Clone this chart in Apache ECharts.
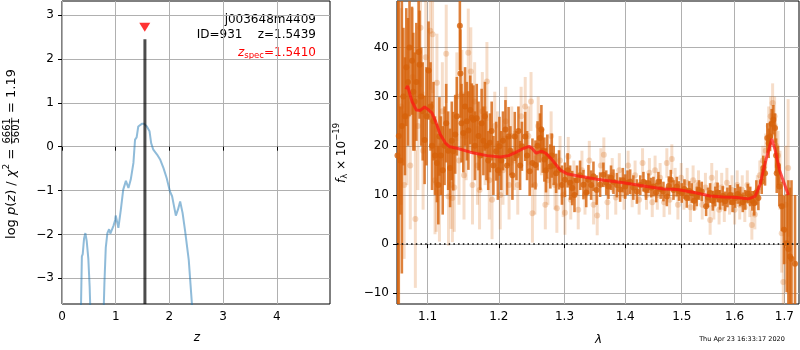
<!DOCTYPE html>
<html>
<head>
<meta charset="utf-8">
<script src="https://cdn.jsdelivr.net/npm/echarts@6.0.0/dist/echarts.min.js"></script>
<style>
  html, body { margin: 0; padding: 0; background: #fff; }
  #chart { width: 800px; height: 350px; }
</style>
</head>
<body>
<div id="chart"></div>
<script>
// ---------- redshift probability panel ----------
const zTicks = [0, 1, 2, 3, 4];
const logpTicks = [-3, -2, -1, 0, 1, 2, 3];
const pzZ = [0.30, 0.354, 0.370, 0.386, 0.41, 0.435, 0.46, 0.49, 0.515, 0.54, 0.65, 0.765, 0.79, 0.815, 0.845,
  0.877, 0.90, 0.927, 0.96, 0.99, 1.00, 1.05, 1.095, 1.14, 1.19, 1.237, 1.28, 1.33, 1.36, 1.39, 1.42, 1.45,
  1.486, 1.53, 1.58, 1.63, 1.66, 1.70, 1.77, 1.83, 1.89, 1.95, 2.01, 2.05, 2.08, 2.12, 2.16, 2.20, 2.245,
  2.29, 2.36, 2.42, 2.50];
const pzLogP = [-6, -3.6, -2.5, -2.45, -2.1, -1.97, -2.15, -2.55, -3.2, -4.2, -6, -4.2, -3.1, -2.3, -1.97,
  -1.88, -1.98, -2.0, -1.8, -1.67, -1.57, -1.85, -1.44, -0.98, -0.78, -0.94, -0.75, -0.37, 0.16, 0.21, 0.46, 0.5,
  0.52, 0.52, 0.46, 0.35, 0.08, -0.07, -0.18, -0.3, -0.49, -0.72, -1.02, -1.13, -1.32, -1.57, -1.43, -1.25, -1.51,
  -1.9, -2.58, -3.6, -5];
const zBest = 1.5439;
const zBestTop = 2.45;
const zSpec = 1.5410;
const zSpecMarker = 2.72;

// ---------- spectrum panel ----------
const waveTicks = [1.1, 1.2, 1.3, 1.4, 1.5, 1.6, 1.7];
const fluxTicks = [-10, 0, 10, 20, 30, 40];

// binned spectrum (dark points)
const darkWave = [1.0603, 1.0620, 1.0640, 1.0660, 1.0680, 1.0700, 1.0718, 1.0740, 1.0760, 1.0793, 1.0810, 1.0827,
  1.0850, 1.0880, 1.0893, 1.0915, 1.0935, 1.0960, 1.0985, 1.1013, 1.1040, 1.1060, 1.1080, 1.1100, 1.1126, 1.1145,
  1.1160, 1.1180, 1.1205, 1.1230, 1.1253, 1.1280, 1.1306, 1.1330, 1.1350, 1.1377, 1.1400, 1.1442, 1.1450, 1.1465,
  1.1490, 1.1515, 1.1540, 1.1562, 1.1588, 1.1610, 1.1633, 1.1655, 1.1680, 1.1705, 1.1730, 1.1750, 1.1775, 1.1797,
  1.1820, 1.1845, 1.1870, 1.1895, 1.1920, 1.1960, 1.1985, 1.2008, 1.2035, 1.2060, 1.2097, 1.2120, 1.2143, 1.2170,
  1.2200, 1.2235, 1.2260, 1.2290, 1.2315, 1.2342, 1.2392, 1.2420, 1.2460, 1.2502, 1.2548, 1.2580, 1.2617, 1.2639,
  1.2660, 1.2685, 1.2710, 1.2730, 1.2777, 1.2800, 1.2830, 1.2868, 1.2914, 1.2960, 1.3007, 1.3050, 1.3090, 1.3124,
  1.3160, 1.3200, 1.3250, 1.3305, 1.3350, 1.3386, 1.3430, 1.3468, 1.3520, 1.3578, 1.3633, 1.3680, 1.3717, 1.3760,
  1.3801, 1.3860, 1.3914, 1.3960, 1.4000, 1.4040, 1.4085, 1.4140, 1.4201, 1.4260, 1.4315, 1.4360, 1.4403, 1.4450,
  1.4491, 1.4540, 1.4579, 1.4620, 1.4669, 1.4730, 1.4765, 1.4801, 1.4850, 1.4910, 1.4950, 1.5001, 1.5050, 1.5093,
  1.5140, 1.5185, 1.5230, 1.5278, 1.5320, 1.5371, 1.5453, 1.5490, 1.5529, 1.5580, 1.5624, 1.5670, 1.5719, 1.5770,
  1.5815, 1.5860, 1.5912, 1.5960, 1.6011, 1.6060, 1.6109, 1.6160, 1.6208, 1.6260, 1.6307, 1.6350, 1.6387, 1.6430,
  1.6471, 1.6538, 1.6570, 1.6605, 1.6651, 1.6680, 1.6707, 1.6740, 1.6775, 1.6809, 1.6830, 1.6844, 1.6870, 1.6898,
  1.6947, 1.6995, 1.7050, 1.7085, 1.7119, 1.7150, 1.7224];
const darkFlux = [18, 22, 17, 24, 30, 26, 36.0, 33, 40, 37.3, 31, 29.0,
  33, 39.1, 36.5, 30, 27, 21.2, 26, 35.3, 28, 20, 25.0, 18, 16.5, 12,
  21.9, 18, 15, 20, 24.6, 19, 15.5, 21, 18.9, 22.3, 26, 44.4, 34.7, 24.6,
  22.6, 28, 25, 23.1, 27.3, 25.7, 25.3, 20, 25.6, 22, 18, 24.6, 21, 26.0,
  20, 17, 20.6, 23, 16, 18.9, 15, 19.9, 17, 21, 23.3, 16, 21.9, 19,
  14, 21.9, 18, 23, 16, 19.9, 21.9, 18, 14.8, 16.5, 16.1, 20, 21.6, 23.3,
  19, 17.2, 15, 17.8, 15.8, 18, 16, 14.4, 15.1, 12, 13.1, 15, 12.5, 11.4,
  10, 13, 14, 12.1, 10.5, 13.1, 12, 13.8, 11, 12.1, 14.1, 12.5, 11.7, 13.5,
  12.7, 12, 11.1, 13, 11.7, 12.5, 12.7, 11.5, 10.7, 12, 12.7, 11, 12.4, 11.5,
  11.7, 10.5, 12.7, 11.2, 10.7, 9.7, 11.8, 13.1, 11, 11.7, 10.8, 10.4, 11.2, 9.4,
  10.8, 10.4, 8.8, 9.7, 11, 10.7, 7.7, 9.5, 10.4, 8.8, 9.7, 10.5, 9.0, 9.8,
  8.7, 9.5, 10.0, 8.5, 9.4, 10.2, 9.7, 8.5, 9.0, 10.3, 9.7, 8.8, 8.3, 10.5,
  9.4, 12.7, 15.5, 14.4, 21.6, 20.5, 21.9, 24.5, 25.3, 23.6, 18, 14.4, 16, 11.7,
  7.7, 2.9, 0.2, -1, -2.5, -3, -4];
const darkErr = [45, 40, 11, 30, 14, 12, 12, 13, 14, 11, 12, 10,
  12, 12, 11, 10, 10, 9, 10, 10, 9, 9, 8, 8, 8, 8,
  8, 8, 9, 8, 8, 8, 8, 8, 8, 8, 8, 9, 9, 8,
  8, 8, 8, 8, 7, 7, 7, 7, 7, 7, 7, 7, 7, 7,
  7, 6, 6, 6, 6, 6, 6, 6, 6, 6, 6, 6, 6, 5,
  5, 5, 5, 5, 5, 5, 5, 5, 5, 5, 5, 5, 5, 5,
  4.5, 4.5, 4.5, 4.5, 4.5, 4.5, 4, 4, 4, 4, 3.5, 3.5, 3.5, 3.5,
  3.5, 3, 3, 3, 3, 3, 3, 3, 3, 2.5, 2.5, 2.5, 2.5, 2.5,
  2.5, 2.5, 2.5, 2.5, 2.5, 2.5, 2.5, 2.5, 2.5, 2, 2, 2, 2, 2,
  2, 2, 2, 2, 2, 2, 2, 2, 2, 2, 2, 2, 2, 2,
  2, 2, 2, 2, 2, 2, 2, 2, 2, 2, 2, 2, 2, 2,
  2, 2, 2, 2, 2, 2, 2, 2, 2, 2, 2, 2, 2.5, 2.5,
  2.5, 2.5, 2.5, 2.5, 3, 3, 3, 3, 3, 3, 3.5, 4, 4, 4,
  5, 7, 10, 14, 14, 16, 14];

// unbinned spectrum (light points)
const lightWave = [1.0650, 1.0690, 1.0725, 1.0770, 1.0800, 1.0837, 1.0870, 1.0905, 1.0940, 1.0975, 1.1036, 1.1067,
  1.1100, 1.1117, 1.1126, 1.1160, 1.1200, 1.1253, 1.1284, 1.1320, 1.1338, 1.1364, 1.1400, 1.1430, 1.1470, 1.1500,
  1.1530, 1.1560, 1.1596, 1.1620, 1.1650, 1.1690, 1.1720, 1.1760, 1.1800, 1.1826, 1.1860, 1.1900, 1.1940, 1.1980,
  1.2020, 1.2060, 1.2100, 1.2150, 1.2190, 1.2230, 1.2280, 1.2330, 1.2392, 1.2440, 1.2480, 1.2502, 1.2540, 1.2590,
  1.2640, 1.2700, 1.2740, 1.2790, 1.2850, 1.2880, 1.2930, 1.2980, 1.3007, 1.3060, 1.3100, 1.3150, 1.3220, 1.3280,
  1.3330, 1.3400, 1.3470, 1.3530, 1.3590, 1.3640, 1.3700, 1.3780, 1.3840, 1.3900, 1.3980, 1.4050, 1.4120, 1.4170,
  1.4240, 1.4300, 1.4370, 1.4420, 1.4470, 1.4520, 1.4560, 1.4610, 1.4680, 1.4730, 1.4780, 1.4820, 1.4880, 1.4930,
  1.4990, 1.5040, 1.5100, 1.5160, 1.5210, 1.5260, 1.5310, 1.5380, 1.5440, 1.5529, 1.5560, 1.5600, 1.5650, 1.5700,
  1.5750, 1.5800, 1.5850, 1.5900, 1.5950, 1.6000, 1.6050, 1.6100, 1.6150, 1.6200, 1.6250, 1.6300, 1.6340, 1.6400,
  1.6450, 1.6500, 1.6560, 1.6620, 1.6680, 1.6720, 1.6760, 1.6800, 1.6830, 1.6870, 1.6910, 1.6947, 1.6980, 1.7030,
  1.7080];
const lightFlux = [28, 12, 26, 16, 34, 5.1, 24, 44, 19, 38, 43.4, 42.7,
  13, 12.5, 32.8, 10.5, 27, 38.7, 9.7, 12.1, 9.4, 11.5, 30, 17, 30.5, 14,
  22, 38.9, 35.1, 12, 29, 16, 11, 27, 20, 33.1, 13, 9.0, 24, 20,
  10.0, 15, 25, 12, 22, 17, 12, 26, 28.0, 22, 29.0, 6.3, 12, 24,
  19, 8.0, 13, 22, 12, 7.3, 17, 10, 6.4, 17.8, 9, 13, 7, 15,
  10, 17, 8, 5.8, 16, 18.2, 8.5, 14, 9.5, 15, 10, 16, 10.5, 14,
  9, 16.5, 10, 14.5, 8.5, 15, 10, 13.5, 8.5, 16.5, 9, 17.3, 12.5, 8,
  13.5, 10, 12.5, 7.5, 13, 10, 12, 8, 11.5, 4.9, 13.5, 8, 12, 7,
  11.5, 7.5, 12.5, 9, 11, 7, 12, 8, 11, 7.5, 12, 8.5, 3.9, 6,
  11, 14, 17, 19, 24, 26, 28.7, 26, 20, 18, 13, 2.2, -7.7, 8,
  15.5];
const lightErr = [20, 15, 14, 13, 14, 14, 13, 12, 12, 12, 12, 12,
  11, 10, 10, 10, 10, 10, 10, 9, 9, 9, 9, 9, 9, 9,
  9, 9, 9, 8, 8, 8, 8, 8, 8, 8, 8, 8, 7, 7,
  7, 7, 7, 7, 6, 6, 6, 6, 6, 6, 6, 6, 6, 6,
  5, 5, 5, 5, 5, 5, 5, 4.5, 4.5, 4, 4, 4, 4, 4,
  4, 4, 4, 4, 3.5, 3.5, 3.5, 3.5, 3.5, 3.5, 3, 3, 3, 3,
  3, 3, 3, 3, 3, 3, 3, 3, 3, 3, 3, 3, 3, 3,
  3, 3, 3, 3, 3, 3, 3, 3, 3, 3, 3, 3, 3, 3,
  3, 3, 3, 3, 3, 3, 3, 3, 3, 3, 3, 3, 3, 3,
  3, 3, 3, 3.5, 4, 4, 4, 4, 4.5, 5, 6, 8, 10, 12,
  14];

// best-fit template
const modelWave = [1.0715, 1.0735, 1.0793, 1.0849, 1.0902, 1.0960, 1.1013, 1.1059, 1.1117, 1.1172, 1.1240, 1.1300,
  1.1402, 1.1588, 1.1826, 1.2020, 1.2142, 1.2242, 1.2342, 1.2452, 1.2493, 1.2559, 1.2647, 1.2714, 1.2802, 1.2932,
  1.3038, 1.3198, 1.3525, 1.3970, 1.4377, 1.4671, 1.4910, 1.5031, 1.5278, 1.5529, 1.5782, 1.6042, 1.6271, 1.6404,
  1.6505, 1.6572, 1.6652, 1.6743, 1.6810, 1.6900, 1.7085];
const modelFlux = [31.5, 32.2, 29.0, 27.3, 27.2, 27.9, 27.3, 26.7, 24.6, 22.3, 20.6, 19.8,
  19.5, 18.7, 18.0, 17.7, 18.0, 18.6, 19.3, 19.9, 19.5, 18.5, 18.9, 18.4, 17.2, 15.1,
  14.3, 13.9, 13.2, 12.5, 11.7, 11.2, 11.1, 10.9, 10.4, 9.8, 9.6, 9.5, 9.2, 9.7,
  12.1, 15.1, 18.2, 21.4, 19.2, 15.1, 10.0];

// ---------- helpers ----------
const FONT = "'DejaVu Sans', sans-serif";
const measureCtx = document.createElement('canvas').getContext('2d');
function textWidth(str, size, italic) {
  measureCtx.font = (italic ? 'italic ' : '') + size + "px 'DejaVu Sans'";
  return measureCtx.measureText(str).width;
}
function txt(text, x, y, size, italic, fill, align) {
  return {
    type: 'text', x: x, y: y, silent: true,
    style: {
      text: text, fontSize: size, fontFamily: FONT, fontStyle: italic ? 'italic' : 'normal',
      fill: fill || '#000', align: align || 'left', verticalAlign: 'middle'
    }
  };
}
// lays out a run of text pieces (with sub/superscripts and stacked fractions) left to right
function layoutPieces(pieces) {
  let x = 0;
  const children = [];
  pieces.forEach(function (p) {
    if (p.frac) {
      const w = Math.max(textWidth(p.num, p.size), textWidth(p.den, p.size)) + 2;
      children.push(txt(p.num, x + w / 2, p.numDy, p.size, false, p.fill, 'center'));
      children.push(txt(p.den, x + w / 2, p.denDy, p.size, false, p.fill, 'center'));
      children.push({ type: 'line', silent: true,
        shape: { x1: x + 0.5, y1: p.barDy, x2: x + w - 0.5, y2: p.barDy },
        style: { stroke: p.fill || '#000', lineWidth: 0.8 } });
      x += w;
    } else {
      children.push(txt(p.text, x, p.dy || 0, p.size, p.italic, p.fill, 'left'));
      x += textWidth(p.text, p.size, p.italic);
    }
  });
  return { children: children, width: x };
}
function centeredRotated(pieces, cx, cy) {
  const l = layoutPieces(pieces);
  return { type: 'group', x: cx, y: cy, rotation: Math.PI / 2,
    children: [{ type: 'group', x: -l.width / 2, y: 0, children: l.children }] };
}
function rightAligned(pieces, rx, cy) {
  const l = layoutPieces(pieces);
  return { type: 'group', x: rx - l.width, y: cy, children: l.children };
}
function minusFmt(v) {
  return v < 0 ? '\u2212' + Math.abs(v) : String(v);
}
function errorBars(color, width) {
  return function (params, api) {
    const x = api.value(0), y = api.value(1), e = api.value(2);
    const hi = api.coord([x, y + e]);
    const lo = api.coord([x, y - e]);
    return { type: 'rect',
      shape: { x: hi[0] - width / 2, y: hi[1], width: width, height: lo[1] - hi[1] },
      style: { fill: color } };
  };
}

const ORANGE = '214,98,10';
const axisText = { fontSize: 12, fontFamily: FONT, color: '#000' };
const tickStyle = { show: true, inside: false, length: 4, lineStyle: { color: '#000', width: 1 } };
const gridLine = { show: true, lineStyle: { color: '#b0b0b0', width: 1 } };

const chart = echarts.init(document.getElementById('chart'), null, { renderer: 'canvas' });

chart.setOption({
  animation: false,
  backgroundColor: '#fff',
  grid: [
    { left: 62, top: 1, width: 268, height: 303, show: true, borderColor: '#000', borderWidth: 1, containLabel: false },
    { left: 397, top: 1, width: 402, height: 303, show: true, borderColor: '#000', borderWidth: 1, containLabel: false }
  ],
  xAxis: [
    { type: 'value', gridIndex: 0, min: 0, max: 4.99,
      axisLine: { show: false },
      axisTick: Object.assign({ customValues: zTicks }, tickStyle),
      axisLabel: Object.assign({ customValues: zTicks, margin: 7, formatter: minusFmt }, axisText),
      splitLine: gridLine },
    { type: 'value', gridIndex: 1, min: Math.log(1.0597), max: Math.log(1.7308),
      axisLine: { show: false },
      axisTick: Object.assign({ customValues: waveTicks.map(Math.log) }, tickStyle),
      axisLabel: Object.assign({ customValues: waveTicks.map(Math.log), margin: 7,
        formatter: function (v) { return Math.exp(v).toFixed(1); } }, axisText),
      splitLine: gridLine }
  ],
  yAxis: [
    { type: 'value', gridIndex: 0, min: -3.586, max: 3.32,
      axisLine: { show: false },
      axisTick: Object.assign({ customValues: logpTicks }, tickStyle),
      axisLabel: Object.assign({ customValues: logpTicks, margin: 8, formatter: minusFmt }, axisText),
      splitLine: gridLine },
    { type: 'value', gridIndex: 1, min: -12.18, max: 49.45,
      axisLine: { show: false },
      axisTick: Object.assign({ customValues: fluxTicks }, tickStyle),
      axisLabel: Object.assign({ customValues: fluxTicks, margin: 8, formatter: minusFmt }, axisText),
      splitLine: gridLine }
  ],
  series: [
    { name: 'p(z)', type: 'line', xAxisIndex: 0, yAxisIndex: 0, showSymbol: false, clip: true,
      data: pzZ.map(function (z, i) { return [z, pzLogP[i]]; }),
      lineStyle: { color: 'rgba(31,119,180,0.5)', width: 2 }, z: 3 },
    { name: 'zbest', type: 'line', xAxisIndex: 0, yAxisIndex: 0, showSymbol: false, clip: true,
      data: [[zBest, -3.586], [zBest, zBestTop]],
      lineStyle: { color: 'rgba(0,0,0,0.7)', width: 3 }, z: 4 },
    { name: 'zspec', type: 'scatter', xAxisIndex: 0, yAxisIndex: 0,
      data: [[zSpec, zSpecMarker]], symbol: 'triangle', symbolRotate: 180, symbolSize: [11, 9],
      itemStyle: { color: '#ff0000' }, z: 5 },

    { name: 'unbinned err', type: 'custom', xAxisIndex: 1, yAxisIndex: 1, clip: true,
      renderItem: errorBars('rgba(' + ORANGE + ',0.22)', 3),
      data: lightWave.map(function (w, i) { return [Math.log(w), lightFlux[i], lightErr[i]]; }), z: 2 },
    { name: 'unbinned', type: 'scatter', xAxisIndex: 1, yAxisIndex: 1, clip: true, symbolSize: 6,
      itemStyle: { color: 'rgba(' + ORANGE + ',0.3)' },
      data: lightWave.map(function (w, i) { return [Math.log(w), lightFlux[i]]; }), z: 2 },
    { name: 'binned err', type: 'custom', xAxisIndex: 1, yAxisIndex: 1, clip: true,
      renderItem: errorBars('rgba(' + ORANGE + ',0.8)', 2.6),
      data: darkWave.map(function (w, i) { return [Math.log(w), darkFlux[i], darkErr[i]]; }), z: 3 },
    { name: 'binned', type: 'scatter', xAxisIndex: 1, yAxisIndex: 1, clip: true, symbolSize: 6,
      itemStyle: { color: 'rgb(' + ORANGE + ')' },
      data: darkWave.map(function (w, i) { return [Math.log(w), darkFlux[i]]; }), z: 3 },
    { name: 'template', type: 'line', xAxisIndex: 1, yAxisIndex: 1, showSymbol: false, clip: true,
      lineStyle: { color: 'rgba(255,20,20,0.72)', width: 3 },
      data: modelWave.map(function (w, i) { return [Math.log(w), modelFlux[i]]; }), z: 4,
      markLine: { silent: true, symbol: ['none', 'none'], label: { show: false },
        lineStyle: { color: '#000', type: [1.5, 3.2], width: 1.6 },
        data: [{ yAxis: 0 }] } }
  ],
  graphic: [
    rightAligned([{ text: 'j003648m4409', size: 12 }], 316, 20),
    rightAligned([{ text: 'ID=931    z=1.5439', size: 12 }], 316, 35),
    rightAligned([
      { text: 'z', size: 12, italic: true, fill: '#ff0000' },
      { text: 'spec', size: 8.5, dy: 3, fill: '#ff0000' },
      { text: '=1.5410', size: 12, fill: '#ff0000' }
    ], 316, 53),
    centeredRotated([
      { text: 'log ', size: 13 },
      { text: 'p', size: 13, italic: true },
      { text: '(', size: 13 },
      { text: 'z', size: 13, italic: true },
      { text: ') / ', size: 13 },
      { text: '\u03c7', size: 13, italic: true },
      { text: '2', size: 9, dy: -5.5 },
      { text: ' = ', size: 13 },
      { frac: true, num: '6661', den: '5601', size: 10, numDy: -4.8, denDy: 4.8, barDy: -0.3 },
      { text: ' = 1.19', size: 13 }
    ], 12, 154),
    centeredRotated([
      { text: 'f', size: 12, italic: true },
      { text: '\u03bb', size: 8.5, dy: 3 },
      { text: ' \u00d7 10', size: 12 },
      { text: '\u221219', size: 8.5, dy: -5 }
    ], 342, 153),
    rightAligned([{ text: 'z', size: 12, italic: true }], 200, 338),
    rightAligned([{ text: '\u03bb', size: 12, italic: true }], 602, 340),
    { type: 'text', x: 742, y: 339, silent: true,
      style: { text: 'Thu Apr 23 16:33:17 2020', fontSize: 6.5, fontFamily: FONT, fill: '#000',
        align: 'center', verticalAlign: 'middle' } }
  ]
});
</script>
</body>
</html>
